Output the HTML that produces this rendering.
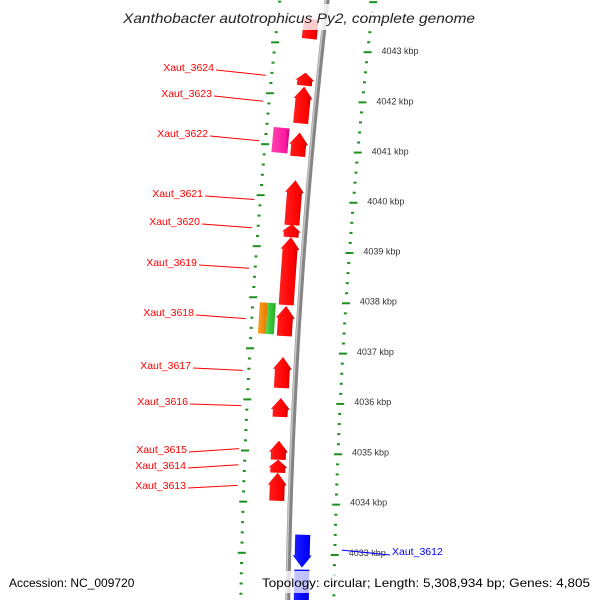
<!DOCTYPE html>
<html><head><meta charset="utf-8"><style>
html,body{margin:0;padding:0;background:#fff;overflow:hidden;width:600px;height:600px;}
svg{display:block;overflow:hidden;}
text{font-family:"Liberation Sans",sans-serif;}
</style></head><body>
<svg id="map" width="600" height="600" viewBox="0 0 600 600" xmlns="http://www.w3.org/2000/svg">
<defs>
<linearGradient id="gRed" x1="0" x2="1" y1="0" y2="0"><stop offset="0" stop-color="#ff2020"/><stop offset="0.7" stop-color="#ff0000"/><stop offset="1" stop-color="#b00000"/></linearGradient>
<linearGradient id="gPink" x1="0" x2="1" y1="0" y2="0"><stop offset="0" stop-color="#ff40b0"/><stop offset="0.75" stop-color="#ff1aa0"/><stop offset="1" stop-color="#c00080"/></linearGradient>
<linearGradient id="gBlue" x1="0" x2="1" y1="0" y2="0"><stop offset="0" stop-color="#2020ff"/><stop offset="0.75" stop-color="#0000ff"/><stop offset="1" stop-color="#0000b0"/></linearGradient>
<linearGradient id="gOrange" x1="0" x2="1" y1="0" y2="0"><stop offset="0" stop-color="#ffa020"/><stop offset="1" stop-color="#e07800"/></linearGradient>
<linearGradient id="gGreen" x1="0" x2="1" y1="0" y2="0"><stop offset="0" stop-color="#50dd50"/><stop offset="1" stop-color="#20aa20"/></linearGradient>
<clipPath id="frame"><rect x="0" y="0" width="600" height="600"/></clipPath>
</defs>
<g clip-path="url(#frame)">
<g id="rings"></g>
<g id="backbone"></g>
<g id="genes"></g>
<g id="labels"></g>
</g>
<rect x="115" y="4" width="370" height="26" fill="#fff" fill-opacity="0.8"/>
<text x="299" y="23" text-anchor="middle" font-size="14" font-style="italic" fill="#222" textLength="352" lengthAdjust="spacingAndGlyphs">Xanthobacter autotrophicus Py2, complete genome</text>
<rect x="258" y="571" width="336" height="22" fill="#fff" fill-opacity="0.75"/>
<text x="9" y="587" font-size="12" fill="#000">Accession: NC_009720</text>
<text x="262" y="587" font-size="12" fill="#000" textLength="328" lengthAdjust="spacingAndGlyphs">Topology: circular; Length: 5,308,934 bp; Genes: 4,805</text>
</svg>
<script>
// ---- data ----
const geneNames  = ["g0","Xaut_3624","Xaut_3623","Xaut_3622","Xaut_3621","Xaut_3620","Xaut_3619","Xaut_3618","Xaut_3617","Xaut_3616","Xaut_3615","Xaut_3614","Xaut_3613","Xaut_3612","g_next"];
const geneStart  = [4043.14,4042.215,4041.468,4040.819,4039.462,4039.226,4037.889,4037.279,4036.256,4035.687,4034.845,4034.589,4034.039,4032.737,4031.80];
const geneEnd    = [4043.53,4042.471,4042.196,4041.291,4040.347,4039.482,4039.226,4037.869,4036.866,4036.060,4035.219,4034.845,4034.589,4033.385,4032.697];
const geneStrand = [1,1,1,1,1,1,1,1,1,1,1,1,1,-1,-1];
const geneHead   = [0,1,1,1,1,1,1,1,1,1,1,1,1,1,0];
const extraNames = ["pink-feature","orange-feature","green-feature"];
const extraStart = [4040.858,4037.30,4037.30];
const extraEnd   = [4041.350,4037.91,4037.91];
const extraFill  = ["url(#gPink)","url(#gOrange)","url(#gGreen)"];
const tickKbp    = [4033,4034,4035,4036,4037,4038,4039,4040,4041,4042,4043];
const tickLabels = ["4033 kbp","4034 kbp","4035 kbp","4036 kbp","4037 kbp","4038 kbp","4039 kbp","4040 kbp","4041 kbp","4042 kbp","4043 kbp"];
const labelGene  = ["Xaut_3624","Xaut_3623","Xaut_3622","Xaut_3621","Xaut_3620","Xaut_3619","Xaut_3618","Xaut_3617","Xaut_3616","Xaut_3615","Xaut_3614","Xaut_3613"];
const labelX     = [214,212,208,203,200,197,194,191,188,187,186,186];
const labelY     = [71,97,137,197,225,266,316,369,405,453,469,489];

// ---- geometry ----
const CX=6412, CY=700, R=6125, PHI0=0.02385, DPHI=0.008291;
function P(k,off){const f=PHI0+(k-4033)*DPHI, r=R+off;return [CX-r*Math.cos(f), CY-r*Math.sin(f)];}
function pts(a){return a.map(p=>p[0].toFixed(2)+","+p[1].toFixed(2)).join(" ");}
const NS="http://www.w3.org/2000/svg";
function mk(tag,attrs,parent){const e=document.createElementNS(NS,tag);for(const k in attrs)e.setAttribute(k,attrs[k]);parent.appendChild(e);return e;}

// rings
const rings=document.getElementById('rings');
for(let i=0;i<=66;i++){
  const k=4031.8+i*0.2, kk=Math.round(k*10)/10, major=Math.abs(kk-Math.round(kk))<0.01;
  [47,-46].forEach(off=>{
    const c=P(kk,off), w=major?8:3;
    const d=mk('rect',{x:(c[0]-w/2).toFixed(2),y:(c[1]-1).toFixed(2),width:w,height:2,fill:'#1f8f1f'},rings);
    
    
  });
}
tickKbp.forEach((k,i)=>{
  const c=P(k,-60);
  const t=mk('text',{x:c[0].toFixed(1),y:(c[1]+0.5).toFixed(1),'font-size':9,fill:'#333'},rings);
  t.textContent=tickLabels[i];
  
  
});

// backbone
const bb=document.getElementById('backbone');
const bp=[];for(let k=4031.6;k<=4044.4;k+=0.1)bp.push(P(k,0));
const b1=mk('polyline',{points:pts(bp),fill:'none',stroke:'#858585','stroke-width':5},bb);


const bp2=[];for(let k=4031.6;k<=4044.4;k+=0.1)bp2.push(P(k,1.3));
const b2=mk('polyline',{points:pts(bp2),fill:'none',stroke:'#c8c8c8','stroke-width':1.5},bb);



// genes
const genes=document.getElementById('genes');
function arrow(s,e,strand,o1,o2,head){
  const h=head?Math.min(0.24,(e-s)*0.6):0, m=(o1+o2)/2, a=[], n=6;
  if(strand>0){
    for(let i=0;i<=n;i++)a.push(P(s+(e-h-s)*i/n,o1));
    if(head){a.push(P(e-h,o1-2));a.push(P(e,m));a.push(P(e-h,o2+2));}
    for(let i=n;i>=0;i--)a.push(P(s+(e-h-s)*i/n,o2));
  }else{
    for(let i=0;i<=n;i++)a.push(P(e-(e-s-h)*i/n,o1));
    if(head){a.push(P(s+h,o1-2));a.push(P(s,m));a.push(P(s+h,o2+2));}
    for(let i=n;i>=0;i--)a.push(P(e-(e-s-h)*i/n,o2));
  }
  return a;
}
geneNames.forEach((n,i)=>{
  const fwd=geneStrand[i]>0;
  const a=fwd?arrow(geneStart[i],geneEnd[i],1,6,21,geneHead[i]):arrow(geneStart[i],geneEnd[i],-1,-21,-6,geneHead[i]);
  const g=mk('polygon',{points:pts(a),fill:fwd?'url(#gRed)':'url(#gBlue)'},genes);
  
  
});
const extraO1=[24,32,24], extraO2=[40,40,32];
extraNames.forEach((n,i)=>{
  const a=[],N=6;
  for(let j=0;j<=N;j++)a.push(P(extraStart[i]+(extraEnd[i]-extraStart[i])*j/N,extraO1[i]));
  for(let j=N;j>=0;j--)a.push(P(extraStart[i]+(extraEnd[i]-extraStart[i])*j/N,extraO2[i]));
  const g=mk('polygon',{points:pts(a),fill:extraFill[i]},genes);
  
  
});

// labels
const labels=document.getElementById('labels');
labelGene.forEach((n,i)=>{
  const gi=geneNames.indexOf(n), mid=(geneStart[gi]+geneEnd[gi])/2, c=P(mid,53);
  const l=mk('line',{x1:labelX[i]+2,y1:labelY[i]-1,x2:c[0].toFixed(1),y2:c[1].toFixed(1),stroke:'#f00','stroke-width':1},labels);
  
  
  const t=mk('text',{x:labelX[i],y:labelY[i],'font-size':10.5,fill:'#f00','text-anchor':'end'},labels);
  t.textContent=n;
  
  
});
(function(){
  const gi=geneNames.indexOf("Xaut_3612"), mid=(geneStart[gi]+geneEnd[gi])/2, c=P(mid,-53);
  const l=mk('line',{x1:c[0].toFixed(1),y1:(c[1]-2).toFixed(1),x2:390,y2:555,stroke:'#00f','stroke-width':1},labels);
  
  
  const t=mk('text',{x:392,y:555,'font-size':10.5,fill:'#00f'},labels);
  t.textContent="Xaut_3612";
  
  
})();
</script>
</body></html>
